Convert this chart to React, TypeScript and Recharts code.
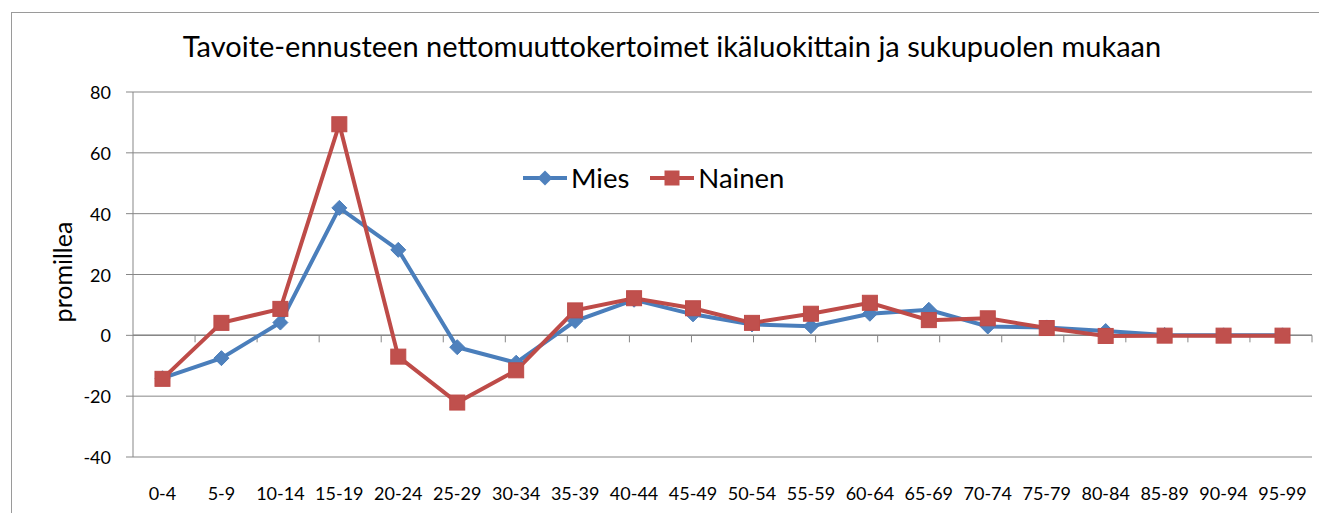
import React from 'react';
import { LineChart, Line, XAxis, YAxis, CartesianGrid, ReferenceLine } from 'recharts';

const categories = ['0-4','5-9','10-14','15-19','20-24','25-29','30-34','35-39','40-44','45-49','50-54','55-59','60-64','65-69','70-74','75-79','80-84','85-89','90-94','95-99'];
const mies = [-14.1, -7.5, 4.2, 41.9, 28.1, -3.9, -9.0, 4.7, 11.7, 6.9, 3.6, 3.0, 7.1, 8.4, 2.9, 2.6, 1.4, 0.1, 0, 0];
const nainen = [-14.3, 4.1, 8.7, 69.4, -7.0, -22.1, -11.5, 8.2, 12.2, 8.9, 4.1, 7.1, 10.7, 5.0, 5.6, 2.4, -0.2, -0.1, -0.1, -0.1];
const yTicks = [-40, -20, 0, 20, 40, 60, 80];
const title = 'Tavoite-ennusteen nettomuuttokertoimet ikäluokittain ja sukupuolen mukaan';
const yLabel = 'promillea';
const seriesNames = ['Mies', 'Nainen'];

const data = categories.map((c, i) => ({ cat: c, mies: mies[i], nainen: nainen[i] }));
const boundaries = categories.map((_, i) => i + 1);

const BLUE = '#4A7EBB';
const BLUE_FILL = '#4F81BD';
const RED = '#BE4B48';
const RED_FILL = '#C0504D';
const GRID = '#878787';
const FONT = 'Lato, "Open Sans", sans-serif';

const Diamond = (props: any) => {
  const { cx, cy, index } = props;
  if (cx == null || cy == null) return <g key={index} />;
  const r = 7.5;
  return (
    <polygon key={index} points={`${cx},${cy - r} ${cx + r},${cy} ${cx},${cy + r} ${cx - r},${cy}`} fill={BLUE_FILL} stroke={BLUE} strokeWidth={1} />
  );
};

const Square = (props: any) => {
  const { cx, cy, index } = props;
  if (cx == null || cy == null) return <g key={index} />;
  const s = 7.5;
  return <rect key={index} x={cx - s} y={cy - s} width={2 * s} height={2 * s} fill={RED_FILL} stroke={RED} strokeWidth={1} />;
};

const XTick = (props: any) => {
  const { x, y, payload } = props;
  return (
    <text x={x} y={y + 36} textAnchor="middle" dominantBaseline="central" fontFamily={FONT} fontSize={18} fill="#000">
      {payload.value}
    </text>
  );
};

const YTick = (props: any) => {
  const { x, y, payload } = props;
  return (
    <text x={x} y={y} textAnchor="end" dominantBaseline="central" fontFamily={FONT} fontSize={18} fill="#000">
      {payload.value}
    </text>
  );
};

export default function App() {
  const W = 1319;
  const H = 505;
  return (
    <div style={{ position: 'relative', width: W, height: H }}>
      <div style={{ position: 'absolute', left: 3, top: 4, width: W - 4, height: H - 4, borderLeft: '1px solid #9a9a9a', borderTop: '1px solid #9a9a9a' }} />
      <div style={{ position: 'absolute', left: 0, top: 20, width: 1328, textAlign: 'center', fontFamily: FONT, fontSize: 29, color: '#000', whiteSpace: 'nowrap' }}>
        {title}
      </div>
      <div style={{ position: 'absolute', left: 0, top: 0 }}>
        <LineChart width={W} height={H} data={data} margin={{ top: 84, right: 15, bottom: 26, left: 0 }}>
          <CartesianGrid vertical={false} stroke={GRID} strokeWidth={1} />
          <XAxis dataKey="cat" scale="band" interval={0} axisLine={false} tickLine={false} tickSize={0} tickMargin={0} height={30} tick={<XTick />} />
          <XAxis xAxisId="b" type="number" domain={[0, categories.length]} hide />
          <YAxis domain={[-40, 80]} ticks={yTicks} width={125} axisLine={{ stroke: GRID, strokeWidth: 1 }} tickLine={{ stroke: GRID }} tickSize={7} tickMargin={15} tick={<YTick />} interval={0} />
          <ReferenceLine y={0} stroke={GRID} strokeWidth={1.5} />
          {boundaries.map((b) => (
            <ReferenceLine key={b} xAxisId="b" segment={[{ x: b, y: 0 }, { x: b, y: -2.3 }]} stroke={GRID} strokeWidth={1} />
          ))}
          <Line dataKey="mies" name={seriesNames[0]} stroke={BLUE} strokeWidth={4} dot={<Diamond />} activeDot={false} isAnimationActive={false} />
          <Line dataKey="nainen" name={seriesNames[1]} stroke={RED} strokeWidth={4} dot={<Square />} activeDot={false} isAnimationActive={false} />
        </LineChart>
      </div>
      <svg width={40} height={140} style={{ position: 'absolute', left: 34, top: 194 }}>
        <text x={20} y={70} transform="rotate(-90 20 70)" textAnchor="middle" dominantBaseline="central" fontFamily={FONT} fontSize={25} fill="#000">
          {yLabel}
        </text>
      </svg>
      <div style={{ position: 'absolute', left: 514, top: 150, display: 'flex', alignItems: 'center', fontFamily: FONT, fontSize: 27.5, color: '#000', lineHeight: '40px' }}>
        <svg width={46} height={20} style={{ display: 'block' }}>
          <line x1={1} y1={10} x2={45} y2={10} stroke={BLUE} strokeWidth={4} />
          <polygon points="23,2.5 30.5,10 23,17.5 15.5,10" fill={BLUE_FILL} />
        </svg>
        <span style={{ marginLeft: 3 }}>{seriesNames[0]}</span>
        <svg width={46} height={20} style={{ display: 'block', marginLeft: 20 }}>
          <line x1={1} y1={10} x2={45} y2={10} stroke={RED} strokeWidth={4} />
          <rect x={15.5} y={2.5} width={15} height={15} fill={RED_FILL} />
        </svg>
        <span style={{ marginLeft: 3 }}>{seriesNames[1]}</span>
      </div>
    </div>
  );
}
